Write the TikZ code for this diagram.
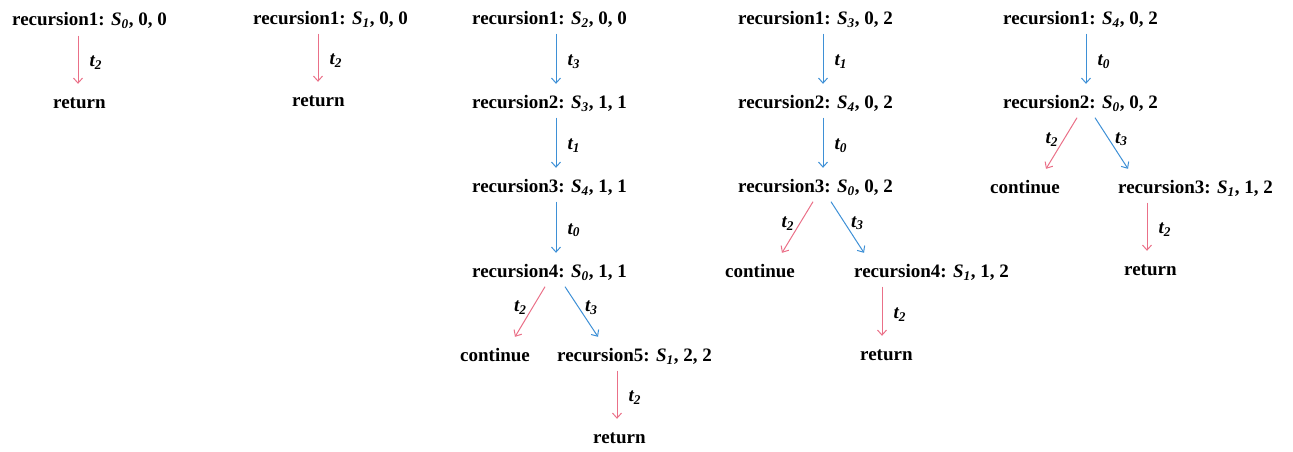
\documentclass[tikz,border=0pt]{standalone}
\usepackage{fontspec}
\setmainfont{Liberation Serif}
\usetikzlibrary{arrows.meta}
\definecolor{pinkc}{RGB}{234,112,136}
\definecolor{bluec}{RGB}{62,144,214}
\newcommand\myS[1]{\textit{S}\textsubscript{\textit{#1}}}
\newcommand\myT[1]{\textit{t}\textsubscript{\textit{#1}}}
\tikzset{
  txt/.style={anchor=west,inner sep=0pt,text height=13pt,text depth=4pt,font=\fontsize{19}{21}\selectfont\bfseries},
  lbl/.style={inner sep=0pt,font=\fontsize{19}{21}\selectfont\bfseries\itshape},
  arr/.style={line width=1pt,-{Straight Barb[length=5pt,width=9pt]}},
  rarr/.style={arr,draw=pinkc},
  barr/.style={arr,draw=bluec},
  vl/.style={lbl,midway,right=11pt,yshift=-3pt},
  ll/.style={lbl,midway,left=3pt,yshift=4pt},
  rl/.style={lbl,midway,right=3pt,yshift=4pt}
}
\begin{document}
\begin{tikzpicture}[x=1pt,y=-1pt]
\useasboundingbox (0,0) rectangle (1293,451);
% column 1
\node[txt] (a1) at (12,21) {recursion1: \myS{0}, 0, 0};
\node[txt] (a2) at (53,104) {return};
\draw[rarr] ([shift={(66,6)}]a1.south west) -- node[vl]{\myT{2}} ([shift={(25,-11.5)}]a2.north west);
% column 2
\node[txt] (b1) at (253,20) {recursion1: \myS{1}, 0, 0};
\node[txt] (b2) at (292,102) {return};
\draw[rarr] ([shift={(65,5)}]b1.south west) -- node[vl]{\myT{2}} ([shift={(26,-11.5)}]b2.north west);
% column 3
\node[txt] (c1) at (472,20) {recursion1: \myS{2}, 0, 0};
\node[txt] (c2) at (472,104) {recursion2: \myS{3}, 1, 1};
\node[txt] (c3) at (472,188) {recursion3: \myS{4}, 1, 1};
\node[txt] (c4) at (472,273) {recursion4: \myS{0}, 1, 1};
\node[txt] (c5) at (460,357) {continue};
\node[txt] (c6) at (557,357) {recursion5: \myS{1}, 2, 2};
\node[txt] (c7) at (593,439) {return};
\draw[barr] ([shift={(84,5)}]c1.south west) -- node[vl]{\myT{3}} ([shift={(84,-11.5)}]c2.north west);
\draw[barr] ([shift={(84,5)}]c2.south west) -- node[vl]{\myT{1}} ([shift={(84,-11.5)}]c3.north west);
\draw[barr] ([shift={(84,5)}]c3.south west) -- node[vl]{\myT{0}} ([shift={(84,-11.5)}]c4.north west);
\draw[rarr] ([shift={(73,5)}]c4.south west) -- node[ll]{\myT{2}} ([shift={(55,-11.5)}]c5.north west);
\draw[barr] ([shift={(93,5)}]c4.south west) -- node[rl]{\myT{3}} ([shift={(41,-11.5)}]c6.north west);
\draw[rarr] ([shift={(60,5)}]c6.south west) -- node[vl]{\myT{2}} ([shift={(24,-11.5)}]c7.north west);
% column 4
\node[txt] (d1) at (738,20) {recursion1: \myS{3}, 0, 2};
\node[txt] (d2) at (738,104) {recursion2: \myS{4}, 0, 2};
\node[txt] (d3) at (738,188) {recursion3: \myS{0}, 0, 2};
\node[txt] (d4) at (725,273) {continue};
\node[txt] (d5) at (854,273) {recursion4: \myS{1}, 1, 2};
\node[txt] (d6) at (860,356) {return};
\draw[barr] ([shift={(85,5)}]d1.south west) -- node[vl]{\myT{1}} ([shift={(85,-11.5)}]d2.north west);
\draw[barr] ([shift={(85,5)}]d2.south west) -- node[vl]{\myT{0}} ([shift={(85,-11.5)}]d3.north west);
\draw[rarr] ([shift={(75,5)}]d3.south west) -- node[ll]{\myT{2}} ([shift={(57,-11.5)}]d4.north west);
\draw[barr] ([shift={(93,5)}]d3.south west) -- node[rl]{\myT{3}} ([shift={(10,-11.5)}]d5.north west);
\draw[rarr] ([shift={(28,5)}]d5.south west) -- node[vl]{\myT{2}} ([shift={(22,-11.5)}]d6.north west);
% column 5
\node[txt] (e1) at (1003,20) {recursion1: \myS{4}, 0, 2};
\node[txt] (e2) at (1003,104) {recursion2: \myS{0}, 0, 2};
\node[txt] (e3) at (990,189) {continue};
\node[txt] (e4) at (1118,189) {recursion3: \myS{1}, 1, 2};
\node[txt] (e5) at (1124,271) {return};
\draw[barr] ([shift={(83,5)}]e1.south west) -- node[vl]{\myT{0}} ([shift={(83,-11.5)}]e2.north west);
\draw[rarr] ([shift={(74,5)}]e2.south west) -- node[ll]{\myT{2}} ([shift={(56,-11.5)}]e3.north west);
\draw[barr] ([shift={(92,5)}]e2.south west) -- node[rl]{\myT{3}} ([shift={(10,-11.5)}]e4.north west);
\draw[rarr] ([shift={(29,5)}]e4.south west) -- node[vl]{\myT{2}} ([shift={(23,-11.5)}]e5.north west);
\end{tikzpicture}
\end{document}
